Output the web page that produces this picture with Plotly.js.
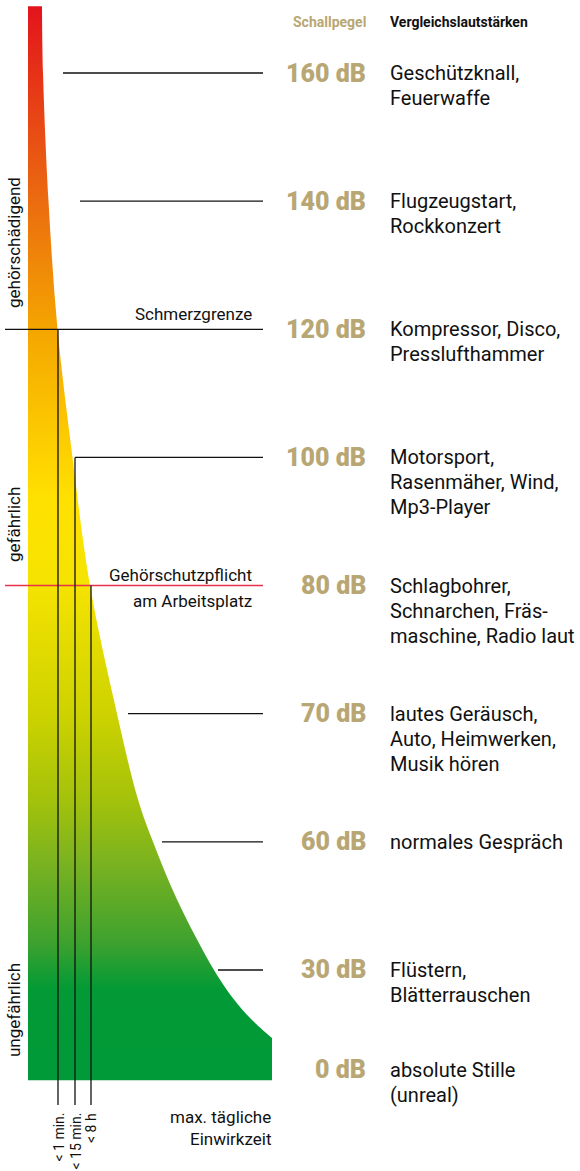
<!DOCTYPE html>
<html>
<head>
<meta charset="utf-8">
<script src="https://cdn.plot.ly/plotly-3.0.1.min.js"></script>
<style>html,body{margin:0;padding:0;background:#fff;}#chart{width:580px;height:1171px;}</style>
</head>
<body>
<div id="chart"></div>
<script>
// ---- data ----
const levels = [160, 140, 120, 100, 80, 70, 60, 30, 0];
const levelLabels = ["160 dB", "140 dB", "120 dB", "100 dB", "80 dB", "70 dB", "60 dB", "30 dB", "0 dB"];
const descriptions = [
  "Geschützknall,\nFeuerwaffe",
  "Flugzeugstart,\nRockkonzert",
  "Kompressor, Disco,\nPresslufthammer",
  "Motorsport,\nRasenmäher, Wind,\nMp3-Player",
  "Schlagbohrer,\nSchnarchen, Fräs-\nmaschine, Radio laut",
  "lautes Geräusch,\nAuto, Heimwerken,\nMusik hören",
  "normales Gespräch",
  "Flüstern,\nBlätterrauschen",
  "absolute Stille\n(unreal)"
];
const exposureLabels = ["< 1 min.", "< 15 min.", "< 8 h"];
const exposureLevels = [120, 100, 80];
const zoneLabels = ["gehörschädigend", "gefährlich", "ungefährlich"];
const thresholdLabels = ["Schmerzgrenze", "Gehörschutzpflicht", "am Arbeitsplatz"];
const headers = ["Schallpegel", "Vergleichslautstärken"];
const timeAxisLabel = ["max. tägliche", "Einwirkzeit"];
// curve of the hearing-risk area: row position (level rows) vs width
const curveRow   = [-0.52, 0, 1, 2, 3, 4, 5, 5.67, 6, 6.45, 7, 7.23, 7.39, 7.53];
const curveWidth = [42, 43, 48.5, 57.5, 72.5, 90, 117, 138, 153, 177, 214, 234, 252, 272];

// ---- layout config ----
const W = 580, H = 1171;
const rowTop = 73, rowStep = 128.14;
const yTop = -rowTop / rowStep, yBot = (H - rowTop) / rowStep;
const rowPos = levels.map((_, i) => i === levels.length - 1 ? i - 0.22 : i);
const lineStart = [63, 80, 5, 75, 5, 128, 162, 218, null];
const lineEnd = 263;
const areaLeft = 28, areaBottomRow = 7.86;
const vLineX = [58, 75, 91];
const vLineBottom = (1105 - rowTop) / rowStep;
const tan = "#b8a774";
const FONT = "Roboto, 'Open Sans', sans-serif";
const px = x => x / W, py = y => 1 - y / H;
const n = curveWidth.length;
const lastW = curveWidth[n - 1], lastR = curveRow[n - 1];

// outline: corners doubled so the spline keeps them sharp
const areaX = [areaLeft, areaLeft, curveWidth[0]].concat(curveWidth, [lastW, lastW, lastW, areaLeft, areaLeft]);
const areaY = [curveRow[0], curveRow[0], curveRow[0]].concat(curveRow, [lastR, areaBottomRow, areaBottomRow, areaBottomRow, areaBottomRow]);

const traces = [{
  type: "scatter", mode: "lines", x: areaX, y: areaY, fill: "toself",
  line: {width: 0, color: "rgba(0,0,0,0)", shape: "spline", smoothing: 1},
  fillgradient: {
    type: "vertical", start: curveRow[0], stop: areaBottomRow,
    colorscale: [
      [0, "#e3131c"], [0.18, "#eb6b10"], [0.30, "#f4a500"], [0.38, "#fbc300"],
      [0.46, "#ffe100"], [0.54, "#f5e300"], [0.66, "#cdd200"], [0.74, "#a3c20b"],
      [0.80, "#78b221"], [0.87, "#40a22e"], [0.915, "#039a36"], [1, "#009a39"]
    ]
  },
  hoverinfo: "skip", showlegend: false
}];

const shapes = [];
levels.forEach((l, i) => {
  if (lineStart[i] === null) return;
  shapes.push({type: "line", xref: "x", yref: "y", x0: lineStart[i], x1: lineEnd, y0: rowPos[i], y1: rowPos[i],
    line: {color: l === 80 ? "#e8324c" : "#111", width: l === 80 ? 1.5 : 1.3}, layer: "above"});
});
exposureLevels.forEach((l, k) => {
  const r = rowPos[levels.indexOf(l)];
  shapes.push({type: "line", xref: "x", yref: "y", x0: vLineX[k], x1: vLineX[k], y0: r, y1: vLineBottom,
    line: {color: "#111", width: 1.3}, layer: "above"});
});

const annotations = [];
levels.forEach((l, i) => {
  annotations.push({xref: "x", yref: "y", x: 368, y: rowPos[i], text: levelLabels[i],
    xanchor: "right", yanchor: "middle", showarrow: false,
    font: {family: FONT, size: 25, color: tan, weight: 900}});
  descriptions[i].split("\n").forEach((t, k) => {
    annotations.push({xref: "x", yref: "y", x: 388, y: rowPos[i], yshift: -25 * k, text: t,
      xanchor: "left", yanchor: "middle", showarrow: false, font: {family: FONT, size: 20, color: "#111"}});
  });
});
// headers
annotations.push({xref: "paper", yref: "paper", x: px(368), y: py(22), text: headers[0],
  xanchor: "right", yanchor: "middle", showarrow: false, font: {family: FONT, size: 14, color: tan, weight: 700}});
annotations.push({xref: "paper", yref: "paper", x: px(388), y: py(22), text: headers[1],
  xanchor: "left", yanchor: "middle", showarrow: false, font: {family: FONT, size: 14, color: "#111", weight: 700}});
// zones
const zoneY = [243, 525, 1010];
zoneLabels.forEach((t, k) => {
  annotations.push({xref: "paper", yref: "paper", x: px(14), y: py(zoneY[k]), text: t, textangle: -90,
    xanchor: "center", yanchor: "middle", showarrow: false, font: {family: FONT, size: 17, color: "#111"}});
});
// thresholds
const thrY = [314, 575, 601];
thresholdLabels.forEach((t, k) => {
  annotations.push({xref: "paper", yref: "paper", x: px(254), y: py(thrY[k]), text: t,
    xanchor: "right", yanchor: "middle", showarrow: false, font: {family: FONT, size: 17, color: "#111"}});
});
// exposure labels
exposureLabels.forEach((t, k) => {
  annotations.push({xref: "x", yref: "paper", x: vLineX[k], y: py(1111), text: t, textangle: -90,
    xanchor: "center", yanchor: "top", showarrow: false, font: {family: FONT, size: 14, color: "#111"}});
});
timeAxisLabel.forEach((t, k) => {
  annotations.push({xref: "paper", yref: "paper", x: px(273), y: py(1117 + 22 * k), text: t,
    xanchor: "right", yanchor: "middle", showarrow: false, font: {family: FONT, size: 17, color: "#111"}});
});

const layout = {
  width: W, height: H, margin: {l: 0, r: 0, t: 0, b: 0},
  paper_bgcolor: "#fff", plot_bgcolor: "#fff",
  xaxis: {range: [0, W], visible: false, fixedrange: true},
  yaxis: {range: [yBot, yTop], visible: false, fixedrange: true},
  shapes: shapes, annotations: annotations, showlegend: false
};
Plotly.newPlot("chart", traces, layout, {staticPlot: true, displayModeBar: false});
</script>
</body>
</html>
